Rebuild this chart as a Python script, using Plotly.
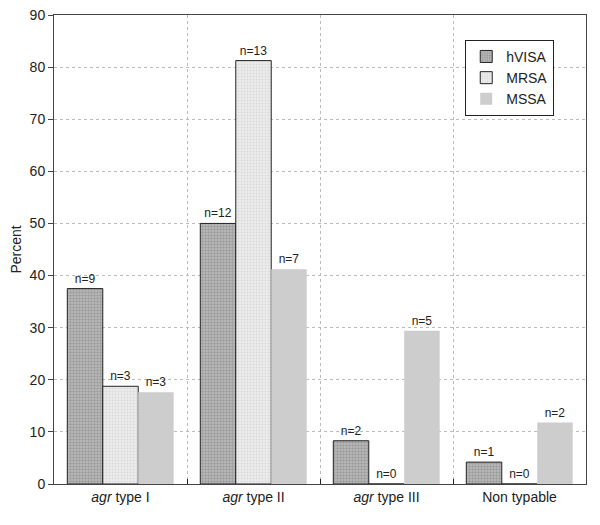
import plotly.graph_objects as go

categories = ["<i>agr</i> type I", "<i>agr</i> type II", "<i>agr</i> type III", "Non typable"]
hvisa_pct = [37.5, 50.0, 8.3, 4.2]
hvisa_n = [9, 12, 2, 1]
mrsa_pct = [18.75, 81.25, 0, 0]
mrsa_n = [3, 13, 0, 0]
mssa_pct = [17.6, 41.2, 29.4, 11.8]
mssa_n = [3, 7, 5, 2]

fig = go.Figure()
fig.add_trace(go.Bar(
    name="hVISA", x=categories, y=hvisa_pct,
    text=[f"n={n}" for n in hvisa_n], textposition="outside",
    marker=dict(color="#b4b4b4", line=dict(color="#222", width=1),
                pattern=dict(shape=".", fgcolor="#7a7a7a", bgcolor="#bdbdbd", size=3, solidity=0.5)),
))
fig.add_trace(go.Bar(
    name="MRSA", x=categories, y=mrsa_pct,
    text=[f"n={n}" for n in mrsa_n], textposition="outside",
    marker=dict(color="#e6e6e6", line=dict(color="#222", width=1),
                pattern=dict(shape="+", fgcolor="#c4c4c4", bgcolor="#ececec", size=3, solidity=0.3)),
))
fig.add_trace(go.Bar(
    name="MSSA", x=categories, y=mssa_pct,
    text=[f"n={n}" for n in mssa_n], textposition="outside",
    marker=dict(color="#cdcdcd", line=dict(width=0)),
))

fig.update_traces(textfont=dict(size=12, color="#222"), cliponaxis=False)

fig.update_layout(
    width=600, height=525,
    margin=dict(l=46, r=22, t=7, b=49, autoexpand=False),
    paper_bgcolor="white", plot_bgcolor="white",
    barmode="group", bargap=0.2, bargroupgap=0,
    font=dict(family="Liberation Sans, Arial, sans-serif", size=13, color="#222"),
    showlegend=True,
    legend=dict(x=0.773, y=0.947, xanchor="left", yanchor="top",
                bordercolor="#222", borderwidth=1, bgcolor="white",
                font=dict(size=14), itemwidth=30, tracegroupgap=0),
    xaxis=dict(tickson="boundaries", ticks="inside", ticklen=5, tickcolor="#222",
               showgrid=True, gridcolor="#bbbbbb", griddash="dot", gridwidth=1,
               showline=True, linecolor="#444", linewidth=1, mirror=True,
               tickfont=dict(size=14), automargin=False),
    yaxis=dict(range=[0, 90], dtick=10, ticks="outside", ticklen=5, tickcolor="#444",
               showgrid=True, gridcolor="#bbbbbb", griddash="dot", gridwidth=1,
               showline=True, linecolor="#444", linewidth=1, mirror=True,
               zeroline=False, tickfont=dict(size=14), automargin=False,
               ticklabeloverflow="allow",
               title=dict(text="Percent", font=dict(size=14), standoff=9)),
)

fig.write_html("out.html")
